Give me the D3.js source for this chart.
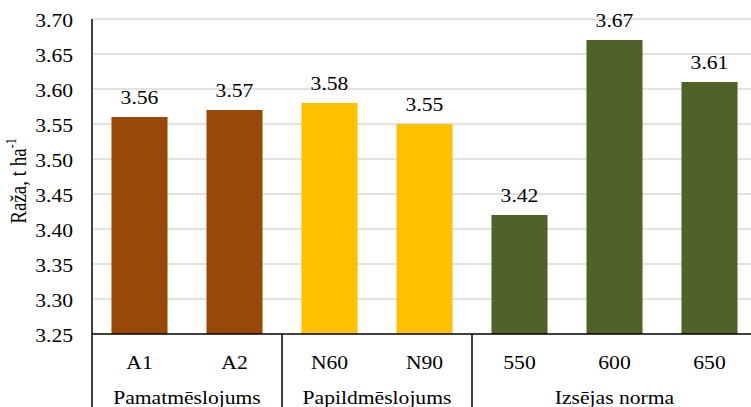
<!DOCTYPE html>
<html>
<head>
<meta charset="utf-8">
<script src="https://cdn.jsdelivr.net/npm/d3@7/dist/d3.min.js"></script>
<style>
  html, body { margin: 0; padding: 0; background: #fff; overflow: hidden; }
  svg { display: block; }
</style>
</head>
<body>
<svg id="chart" width="751" height="407"></svg>
<script>
// Yield by treatment (t/ha)
const categories = ["A1", "A2", "N60", "N90", "550", "600", "650"];
const values = [3.56, 3.57, 3.58, 3.55, 3.42, 3.67, 3.61];
const groupNames = ["Pamatmēslojums", "Papildmēslojums", "Izsējas norma"];
const groupOf = [0, 0, 1, 1, 2, 2, 2];
const groupColors = ["#984807", "#FFC000", "#4F6228"];
const yTicks = [3.25, 3.30, 3.35, 3.40, 3.45, 3.50, 3.55, 3.60, 3.65, 3.70];

const FONT = '"Liberation Serif"';
const svg = d3.select("#chart");
const plotLeft = 92, plotRight = 757, plotTop = 19, plotBottom = 334;
const stretch = 1.2;   // wide serif lettering
const fs = 18;

const x = d3.scaleBand().domain(categories).range([plotLeft, plotRight])
  .paddingInner(0.41).paddingOuter(0.205);
const y = d3.scaleLinear().domain([3.25, 3.70]).range([plotBottom, plotTop]);

function stretchedText(g, tx, ty, str, anchor) {
  return g.append("text")
    .attr("transform", `translate(${tx},${ty}) scale(${stretch},1)`)
    .attr("text-anchor", anchor || "middle")
    .style("font-family", FONT)
    .attr("font-size", fs)
    .attr("fill", "#000")
    .text(str);
}

// Gridlines
svg.append("g").selectAll("line").data(yTicks.slice(1)).join("line")
  .attr("x1", plotLeft).attr("x2", 751)
  .attr("y1", d => y(d)).attr("y2", d => y(d))
  .attr("stroke", "#d9d9d9").attr("stroke-width", 1.5);

// Y tick labels
const yl = svg.append("g");
yTicks.forEach(t => stretchedText(yl, 73, y(t) + 8, d3.format(".2f")(t), "end"));

// Bars
svg.append("g").selectAll("rect").data(categories).join("rect")
  .attr("x", d => x(d))
  .attr("width", x.bandwidth())
  .attr("y", (d, i) => y(values[i]))
  .attr("height", (d, i) => plotBottom - y(values[i]))
  .attr("fill", (d, i) => groupColors[groupOf[i]]);

// Value labels
const vl = svg.append("g");
categories.forEach((c, i) =>
  stretchedText(vl, x(c) + x.bandwidth() / 2, y(values[i]) - 13, d3.format(".2f")(values[i])));

// Axis lines
svg.append("line").attr("x1", plotLeft).attr("x2", plotLeft).attr("y1", plotTop).attr("y2", 407)
  .attr("stroke", "#404040").attr("stroke-width", 2);
svg.append("line").attr("x1", plotLeft).attr("x2", 751).attr("y1", plotBottom).attr("y2", plotBottom)
  .attr("stroke", "#000").attr("stroke-width", 1.5);

// Category labels
const cl = svg.append("g");
categories.forEach(c => stretchedText(cl, x(c) + x.bandwidth() / 2, 369, c));

// Group separators and group labels
const gl = svg.append("g");
groupNames.forEach((name, gi) => {
  const members = categories.filter((c, i) => groupOf[i] === gi);
  const x0 = x(members[0]) - x.step() * x.paddingInner() / 2;
  const x1 = x(members[members.length - 1]) + x.bandwidth() + x.step() * x.paddingInner() / 2;
  if (gi > 0) {
    gl.append("line").attr("x1", x0).attr("x2", x0).attr("y1", plotBottom).attr("y2", 407)
      .attr("stroke", "#000").attr("stroke-width", 1.5);
  }
  stretchedText(gl, (x0 + x1) / 2, 404, name);
});

// Y axis title
const yt = svg.append("text")
  .attr("transform", `translate(26,181) scale(${stretch},1) rotate(-90)`)
  .attr("text-anchor", "middle")
  .style("font-family", FONT)
  .attr("font-size", 19)
  .attr("fill", "#000");
yt.append("tspan").text("Raža, t ha");
yt.append("tspan").attr("font-size", 12).attr("dy", -8).text("-1");
</script>
</body>
</html>
